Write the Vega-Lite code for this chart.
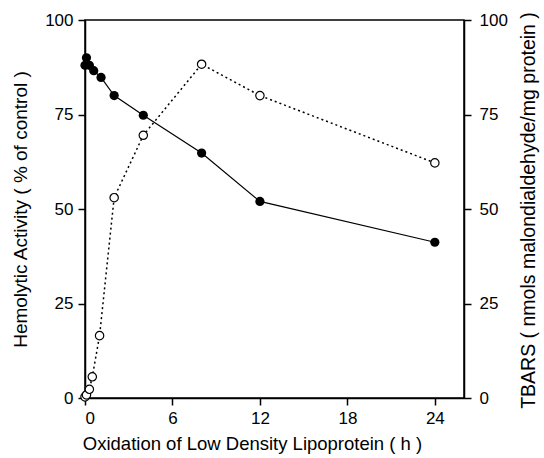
{
  "$schema": "https://vega.github.io/schema/vega-lite/v6.json",
  "width": 379,
  "height": 378,
  "autosize": {"type": "none"},
  "padding": {"left": 85, "top": 20, "right": 80, "bottom": 60},
  "background": "white",
  "config": {
    "font": "Liberation Sans",
    "view": {"stroke": "black", "strokeWidth": 1.5},
    "axis": {
      "grid": false,
      "domainColor": "black",
      "domainWidth": 1.5,
      "tickColor": "black",
      "tickWidth": 1.5,
      "tickSize": 7,
      "labelColor": "black",
      "titleColor": "black",
      "labelFontSize": 17,
      "titleFontSize": 18.5,
      "titleFontWeight": "normal",
      "labelPadding": 5
    }
  },
  "datasets": {
    "hemo": [
      {"t": 0, "v": 88},
      {"t": 0.1, "v": 90},
      {"t": 0.3, "v": 88},
      {"t": 0.6, "v": 86.6},
      {"t": 1.1, "v": 84.8},
      {"t": 2, "v": 80},
      {"t": 4, "v": 74.8},
      {"t": 8, "v": 64.8},
      {"t": 12, "v": 52},
      {"t": 24, "v": 41.2}
    ],
    "tbars": [
      {"t": 0, "v": 0.3},
      {"t": 0.1, "v": 0.8},
      {"t": 0.3, "v": 2.3},
      {"t": 0.5, "v": 5.6},
      {"t": 1, "v": 16.5},
      {"t": 2, "v": 53},
      {"t": 4, "v": 69.5},
      {"t": 8, "v": 88.3},
      {"t": 12, "v": 80},
      {"t": 24, "v": 62.2}
    ]
  },
  "layer": [
    {
      "data": {"name": "hemo"},
      "encoding": {
        "x": {
          "field": "t", "type": "quantitative",
          "scale": {"domain": [0, 26], "nice": false},
          "axis": {"values": [0, 6, 12, 18, 24], "title": "Oxidation of Low Density Lipoprotein ( h )", "titlePadding": 8, "titleX": 167}
        },
        "y": {
          "field": "v", "type": "quantitative",
          "scale": {"domain": [0, 100], "nice": false},
          "axis": {"values": [0, 25, 50, 75, 100], "title": "Hemolytic Activity ( % of control )", "titlePadding": 14, "titleFontSize": 19}
        }
      },
      "layer": [
        {"mark": {"type": "line", "color": "black", "strokeWidth": 1.2}},
        {"mark": {"type": "point", "filled": true, "color": "black", "size": 85, "opacity": 1}}
      ]
    },
    {
      "data": {"name": "tbars"},
      "encoding": {
        "x": {"field": "t", "type": "quantitative"},
        "y": {
          "field": "v", "type": "quantitative",
          "scale": {"domain": [0, 100], "nice": false},
          "axis": {"orient": "right", "values": [0, 25, 50, 75, 100], "labelPadding": 8, "title": "TBARS ( nmols malondialdehyde/mg protein )", "titleAngle": 270, "titleFontSize": 19.5, "titleX": 64, "titleY": 190, "titleAlign": "center", "titleBaseline": "middle"}
        }
      },
      "layer": [
        {"mark": {"type": "line", "color": "black", "strokeWidth": 1.5, "strokeDash": [2, 3]}},
        {"mark": {"type": "point", "filled": true, "fill": "white", "stroke": "black", "strokeWidth": 1.2, "size": 70, "opacity": 1}}
      ]
    }
  ],
  "resolve": {"scale": {"y": "independent"}}
}
